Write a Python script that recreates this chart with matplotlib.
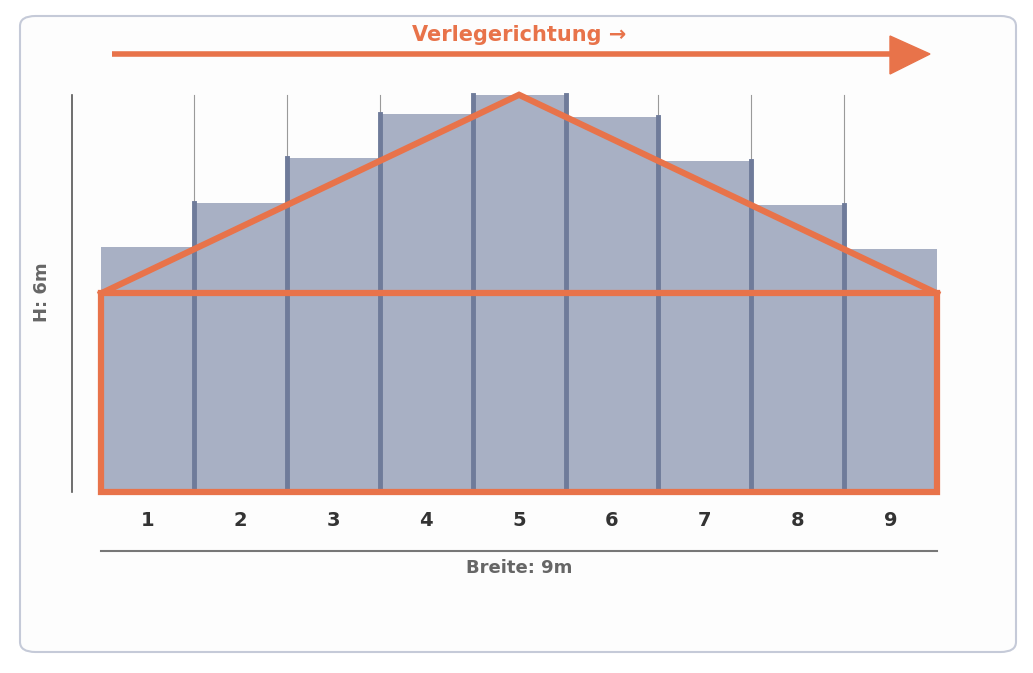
import matplotlib
matplotlib.use("Agg")
import matplotlib.pyplot as plt
from matplotlib.patches import FancyBboxPatch, Polygon

categories = ["1", "2", "3", "4", "5", "6", "7", "8", "9"]
heights = [3.7, 4.37, 5.05, 5.71, 6.0, 5.66, 5.0, 4.34, 3.67]
rect_height = 3.0
peak_height = 6.0
width_m = 9

ORANGE = "#e8734a"
BAR = "#a8b0c4"
EDGE = "#6f7b9a"

fig = plt.figure(figsize=(10.33, 6.73), dpi=100)
fig.patch.set_facecolor("white")
# card
card = FancyBboxPatch((20/1033, 1-652/673), 996/1033, 636/673,
                      boxstyle="round,pad=0,rounding_size=0.015",
                      transform=fig.transFigure, facecolor="#fdfdfd",
                      edgecolor="#c5cad8", linewidth=1.5, zorder=-10)
fig.patches.append(card)

ax = fig.add_axes([0, 0, 1, 1])
ax.set_facecolor("none")
ax.set_zorder(1)
sx, sy = 92.9, 66.2
ax.set_xlim(-101/sx, (1033-101)/sx)
ax.set_ylim(-(673-492)/sy, 492/sy)
ax.axis("off")

# thin gray guide lines
for i in range(1, width_m):
    ax.plot([i, i], [heights[i-1], peak_height], color="#9a9a9a", lw=0.8, zorder=1)
ax.plot([-0.31, -0.31], [0, peak_height], color="#555555", lw=1.2)

# bars
xs = [i + 0.5 for i in range(len(categories))]
ax.bar(xs, heights, width=1.0, color=BAR, zorder=2)
for i in range(1, width_m):
    ax.plot([i, i], [0, max(heights[i-1], heights[i])], color=EDGE, lw=3.5, zorder=3)

# orange shapes
ax.add_patch(plt.Rectangle((0, 0), width_m, rect_height, fill=False, edgecolor=ORANGE, lw=4.5, zorder=5))
ax.plot([0, width_m/2, width_m], [rect_height, peak_height, rect_height], color=ORANGE, lw=4.5, zorder=5, solid_joinstyle="miter")

# labels
for x, c in zip(xs, categories):
    ax.text(x, -28/sy, c, ha="center", va="center", fontsize=14, fontweight="bold", color="#333333")
ax.plot([0, width_m], [-59/sy, -59/sy], color="#777777", lw=1.5)
ax.text(width_m/2, -76/sy, "Breite: 9m", ha="center", va="center", fontsize=13, fontweight="bold", color="#666666")
ax.text(-59/sx, 200/sy, "H: 6m", ha="center", va="center", rotation=90, fontsize=13, fontweight="bold", color="#666666")

# arrow
ay = (492-54)/sy
ax.plot([11/sx, 790/sx], [ay, ay], color=ORANGE, lw=4, solid_capstyle="butt")
ax.add_patch(Polygon([[789/sx, (492-36)/sy], [829/sx, ay], [789/sx, (492-74)/sy]], closed=True, color=ORANGE))
ax.text(width_m/2, (492-35)/sy, "Verlegerichtung →", ha="center", va="center", fontsize=15, fontweight="bold", color=ORANGE)

fig.savefig("out.png", dpi=100)
